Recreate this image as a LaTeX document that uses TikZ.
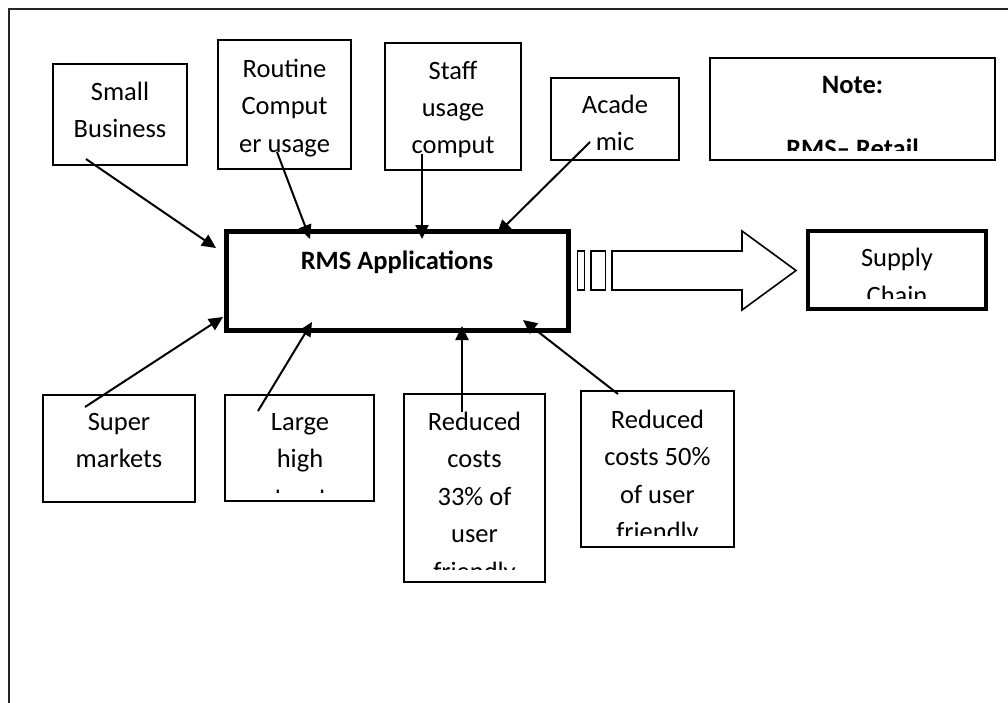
\documentclass[tikz,border=0pt]{standalone}
\usepackage{fontspec}
\setmainfont{Carlito}
\usetikzlibrary{arrows.meta,fit}
\begin{document}
\begin{tikzpicture}[x=1pt,y=-1pt,
  thinbox/.style={draw, line width=2pt, inner sep=0pt},
  notebox/.style={draw, line width=1.8pt, inner sep=0pt},
  rmsbox/.style={draw, line width=5pt, inner sep=0pt},
  scbox/.style={draw, line width=4pt, inner sep=0pt},
  txt/.style={anchor=base, inner sep=0pt, font=\fontsize{26.5}{30}\selectfont},
  btxt/.style={anchor=base, inner sep=0pt, font=\fontsize{26.5}{30}\selectfont\bfseries},
  conn/.style={line width=2pt, -{Triangle[length=14pt,width=13pt]}},
  blockarrow/.style={draw, line width=1.6pt, line join=miter, fill=white}
]
\useasboundingbox (0,0) rectangle (1008,702);
\clip (0,0) rectangle (1008,702);
% outer frame (right and bottom edges lie outside the picture)
\draw[line width=2pt, draw=black!85] (9,9) rectangle (1030,730);

% boxes
\node[thinbox, fit={(53,64) (187,165)}] (sb) {};
\node[thinbox, fit={(218,40) (351,169)}] (rt) {};
\node[thinbox, fit={(385,43) (521,170)}] (st) {};
\node[thinbox, fit={(551,78) (679,160)}] (ac) {};
\node[notebox, fit={(710,58) (995,160)}] (nt) {};
\node[rmsbox, fit={(226,231.5) (568,330)}] (rms) {};
\node[scbox, fit={(808,231) (986,309)}] (sc) {};
\node[thinbox, fit={(43,395) (195,502)}] (su) {};
\node[thinbox, fit={(225,395) (374,501)}] (lg) {};
\node[thinbox, fit={(404,394) (545,582)}] (r33) {};
\node[thinbox, fit={(581,391) (734,547)}] (r50) {};

% texts
\node[txt] (sb1) at (120,100) {Small};
\node[txt] (sb2) at (120,137) {Business};

\node[txt] (rt1) at (284.5,77) {Routine};
\node[txt] (rt2) at (284.5,114) {Comput};
\node[txt] (rt3) at (284.5,152) {er usage};

\node[txt] (st1) at (453,79) {Staff};
\node[txt] (st2) at (453,116) {usage};
\node[txt] (st3) at (453,153) {comput};

\node[txt] (ac1) at (615,113) {Acade};
\begin{scope}
  \clip (552,79) rectangle (678,150);
  \node[txt] (ac2) at (615,150.5) {mic};
\end{scope}

\node[btxt] (nt1) at (852.5,93) {Note:};
\begin{scope}
  \clip (711,59) rectangle (994,150);
  \node[btxt] (nt2) at (852.5,157) {RMS– Retail};
\end{scope}

\node[btxt] (rms1) at (397,269) {RMS Applications};

\node[txt] (sc1) at (897,266.5) {Supply};
\begin{scope}
  \clip (810,233) rectangle (984,298.3);
  \node[txt] (sc2) at (897,304.5) {Chain};
\end{scope}

\node[txt] (su1) at (119,430) {Super};
\node[txt] (su2) at (119,467) {markets};

\node[txt] (lg1) at (300,430) {Large};
\node[txt] (lg2) at (300,467) {high};
\begin{scope}
  \clip (226,396) rectangle (373,492.5);
  \node[txt] (lg3) at (300,508) {level};
\end{scope}

\node[txt] (r331) at (474.5,430) {Reduced};
\node[txt] (r332) at (474.5,467) {costs};
\node[txt] (r333) at (474.5,505) {33\% of};
\node[txt] (r334) at (474.5,542) {user};
\begin{scope}
  \clip (405,395) rectangle (544,569);
  \node[txt] (r335) at (474.5,580.5) {friendly};
\end{scope}

\node[txt] (r501) at (657.5,428) {Reduced};
\node[txt] (r502) at (657.5,465) {costs 50\%};
\node[txt] (r503) at (657.5,503) {of user};
\begin{scope}
  \clip (582,392) rectangle (733,535);
  \node[txt] (r504) at (657.5,540) {friendly};
\end{scope}

% small bars and block arrow towards Supply Chain
\draw[line width=1.5pt] (577.5,251) rectangle (584.5,290);
\draw[line width=1.5pt] (591,251) rectangle (605.5,290);
\draw[blockarrow] (612,251) -- (742,251) -- (742,231) -- (796,270.5)
  -- (742,310) -- (742,290) -- (612,290) -- cycle;

% connector end points
\coordinate (sb-a) at (86,159);   \coordinate (sb-b) at (216,248);
\coordinate (rt-a) at (277,152);  \coordinate (rt-b) at (310,239);
\coordinate (st-a) at (422,154);  \coordinate (st-b) at (422,239);
\coordinate (ac-a) at (590,142);  \coordinate (ac-b) at (497,234);
\coordinate (su-a) at (85,407);   \coordinate (su-b) at (223,317);
\coordinate (lg-a) at (258,411);  \coordinate (lg-b) at (312,322);
\coordinate (r33-a) at (462,412); \coordinate (r33-b) at (462,326);
\coordinate (r50-a) at (618,394); \coordinate (r50-b) at (523,320);

\draw[conn] (sb-a) -- (sb-b);
\draw[conn] (rt-a) -- (rt-b);
\draw[conn] (st-a) -- (st-b);
\draw[conn] (ac-a) -- (ac-b);
\draw[conn] (su-a) -- (su-b);
\draw[conn] (lg-a) -- (lg-b);
\draw[conn] (r33-a) -- (r33-b);
\draw[conn] (r50-a) -- (r50-b);
\end{tikzpicture}
\end{document}
